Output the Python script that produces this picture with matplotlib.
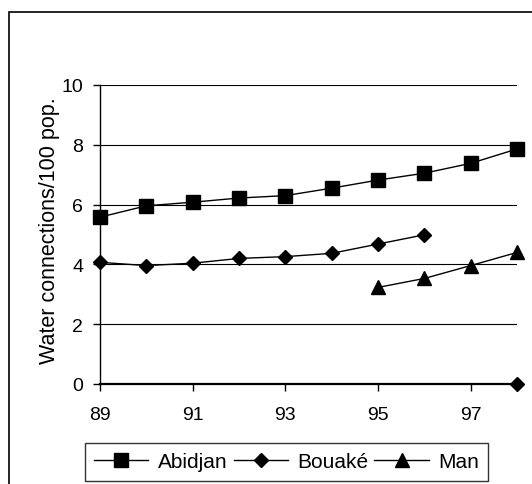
import matplotlib.pyplot as plt
from matplotlib.patches import Rectangle
import numpy as np

plt.rcParams['font.family'] = ['Liberation Sans', 'DejaVu Sans']

years = [89, 90, 91, 92, 93, 94, 95, 96, 97, 98]
abidjan = [5.58, 5.96, 6.08, 6.22, 6.30, 6.55, 6.82, 7.05, 7.38, 7.86]
bouake = [4.07, 3.96, 4.04, 4.20, 4.26, 4.37, 4.68, 4.99, np.nan, 0.0]
man = [np.nan, np.nan, np.nan, np.nan, np.nan, np.nan, 3.23, 3.53, 3.96, 4.40]

fig = plt.figure(figsize=(5.32, 4.85), dpi=100)
ax = fig.add_axes([100/532, 1 - 385/485, 417/532, 299/485])

# frame around the whole chart
fig.patches.append(Rectangle((9/532, -0.02), 1.0, 1 - 13/485 + 0.02,
                             transform=fig.transFigure, fill=False,
                             edgecolor='black', lw=1.2))

ax.plot(years, abidjan, color='black', lw=1, marker='s', ms=9.5, label='Abidjan', clip_on=False, zorder=3)
ax.plot(years, bouake, color='black', lw=1, marker='D', ms=7, label='Bouaké', clip_on=False, zorder=3)
ax.plot(years, man, color='black', lw=1, marker='^', ms=9.5, label='Man', clip_on=False, zorder=3)

ax.set_xlim(89, 98)
ax.set_ylim(0, 10)
ax.set_xticks([89, 91, 93, 95, 97])
ax.set_yticks([0, 2, 4, 6, 8, 10])
ax.yaxis.grid(True, color='black', lw=0.8)
ax.set_axisbelow(True)

for s in ['top', 'right']:
    ax.spines[s].set_visible(False)
ax.spines['left'].set_linewidth(1)
ax.spines['bottom'].set_linewidth(1.6)
ax.tick_params(axis='both', labelsize=14, length=5, width=1, direction='out')
ax.tick_params(axis='x', pad=11)
ax.tick_params(axis='y', pad=7)

ax.set_ylabel('Water connections/100 pop.', fontsize=15.5)
ax.yaxis.set_label_coords(-0.097, 0.515)

leg = fig.legend(loc='center', bbox_to_anchor=(286.5/532, 1 - 463/485), ncol=3,
                 fontsize=15, frameon=True, fancybox=False, edgecolor='black',
                 handlelength=2.6, columnspacing=0.3, handletextpad=0.45,
                 borderpad=0.45, borderaxespad=0)
leg.get_frame().set_linewidth(1)

fig.savefig('out.png', dpi=100)
